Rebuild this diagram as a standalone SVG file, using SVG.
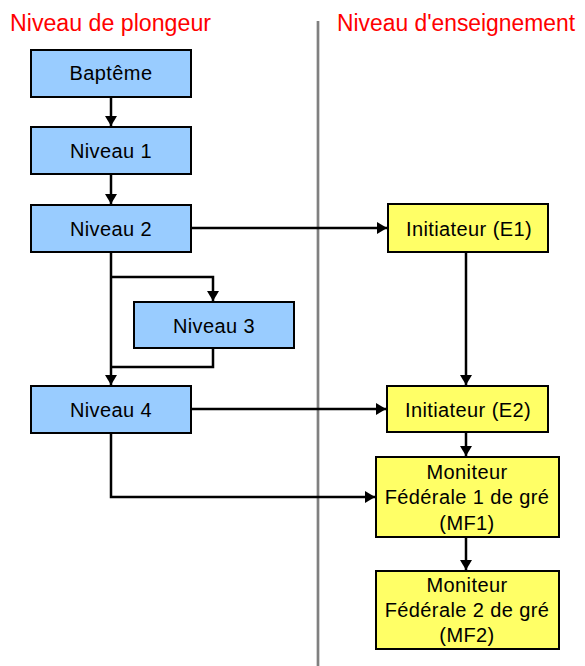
<svg xmlns="http://www.w3.org/2000/svg" width="585" height="666" viewBox="0 0 585 666">
<style>
.blue{fill:#99CCFF;stroke:#000;stroke-width:2}
.yel{fill:#FFFF66;stroke:#000;stroke-width:2}
.lbl{font-family:"Liberation Sans",Arial,sans-serif;font-size:20px;letter-spacing:0.4px;fill:#000;text-anchor:middle}
.title{font-family:"Liberation Sans",Arial,sans-serif;font-size:22.5px;fill:#FF0000}
.con{fill:none;stroke:#000;stroke-width:2.5}
</style>
<defs>
<marker id="ah" markerUnits="userSpaceOnUse" markerWidth="14" markerHeight="14" viewBox="0 0 14 14" refX="12" refY="7" orient="auto">
<path d="M2,1 L12,7 L2,13 Z" fill="#000"/>
</marker>
</defs>
<rect width="585" height="666" fill="#fff"/>
<text class="title" transform="translate(10,31) scale(1,1.1)" x="0" y="0" textLength="201" lengthAdjust="spacingAndGlyphs">Niveau de plongeur</text>
<text class="title" transform="translate(337,31) scale(1,1.1)" x="0" y="0" textLength="238" lengthAdjust="spacingAndGlyphs">Niveau d'enseignement</text>
<line x1="318" y1="21" x2="318" y2="666" stroke="#808080" stroke-width="2.7"/>
<g id="connectors">
<path class="con" d="M111,97 V126" marker-end="url(#ah)"/>
<path class="con" d="M111,174 V204" marker-end="url(#ah)"/>
<path class="con" d="M191,228 H387" marker-end="url(#ah)"/>
<path class="con" d="M111,252 V385" marker-end="url(#ah)"/>
<path class="con" d="M111,277 H213 V301" marker-end="url(#ah)"/>
<path class="con" d="M213,348 V367 H111"/>
<path class="con" d="M191,409 H386" marker-end="url(#ah)"/>
<path class="con" d="M111,433 V497 H375" marker-end="url(#ah)"/>
<path class="con" d="M466,252 V385" marker-end="url(#ah)"/>
<path class="con" d="M466,432 V456" marker-end="url(#ah)"/>
<path class="con" d="M466,537 V570" marker-end="url(#ah)"/>
</g>
<g id="bapteme"><rect class="blue" x="31" y="50" width="160" height="47"/><text class="lbl" x="111" y="80">Baptême</text></g>
<g id="niveau1"><rect class="blue" x="31" y="127" width="160" height="47"/><text class="lbl" x="111" y="158">Niveau 1</text></g>
<g id="niveau2"><rect class="blue" x="31" y="205" width="160" height="47"/><text class="lbl" x="111" y="236">Niveau 2</text></g>
<g id="niveau3"><rect class="blue" x="134" y="302" width="160" height="46"/><text class="lbl" x="214" y="333">Niveau 3</text></g>
<g id="niveau4"><rect class="blue" x="31" y="386" width="160" height="47"/><text class="lbl" x="111" y="417">Niveau 4</text></g>
<g id="e1"><rect class="yel" x="388" y="204" width="160" height="48"/><text class="lbl" x="469" y="236">Initiateur (E1)</text></g>
<g id="e2"><rect class="yel" x="387" y="386" width="161" height="46"/><text class="lbl" x="468" y="417">Initiateur (E2)</text></g>
<g id="mf1"><rect class="yel" x="376" y="457" width="183" height="80"/>
<text class="lbl" x="467" y="479">Moniteur</text>
<text class="lbl" x="467" y="504">Fédérale 1 de gré</text>
<text class="lbl" x="467" y="530">(MF1)</text></g>
<g id="mf2"><rect class="yel" x="376" y="571" width="183" height="78"/>
<text class="lbl" x="467" y="592">Moniteur</text>
<text class="lbl" x="467" y="617">Fédérale 2 de gré</text>
<text class="lbl" x="467" y="642">(MF2)</text></g>
</svg>
